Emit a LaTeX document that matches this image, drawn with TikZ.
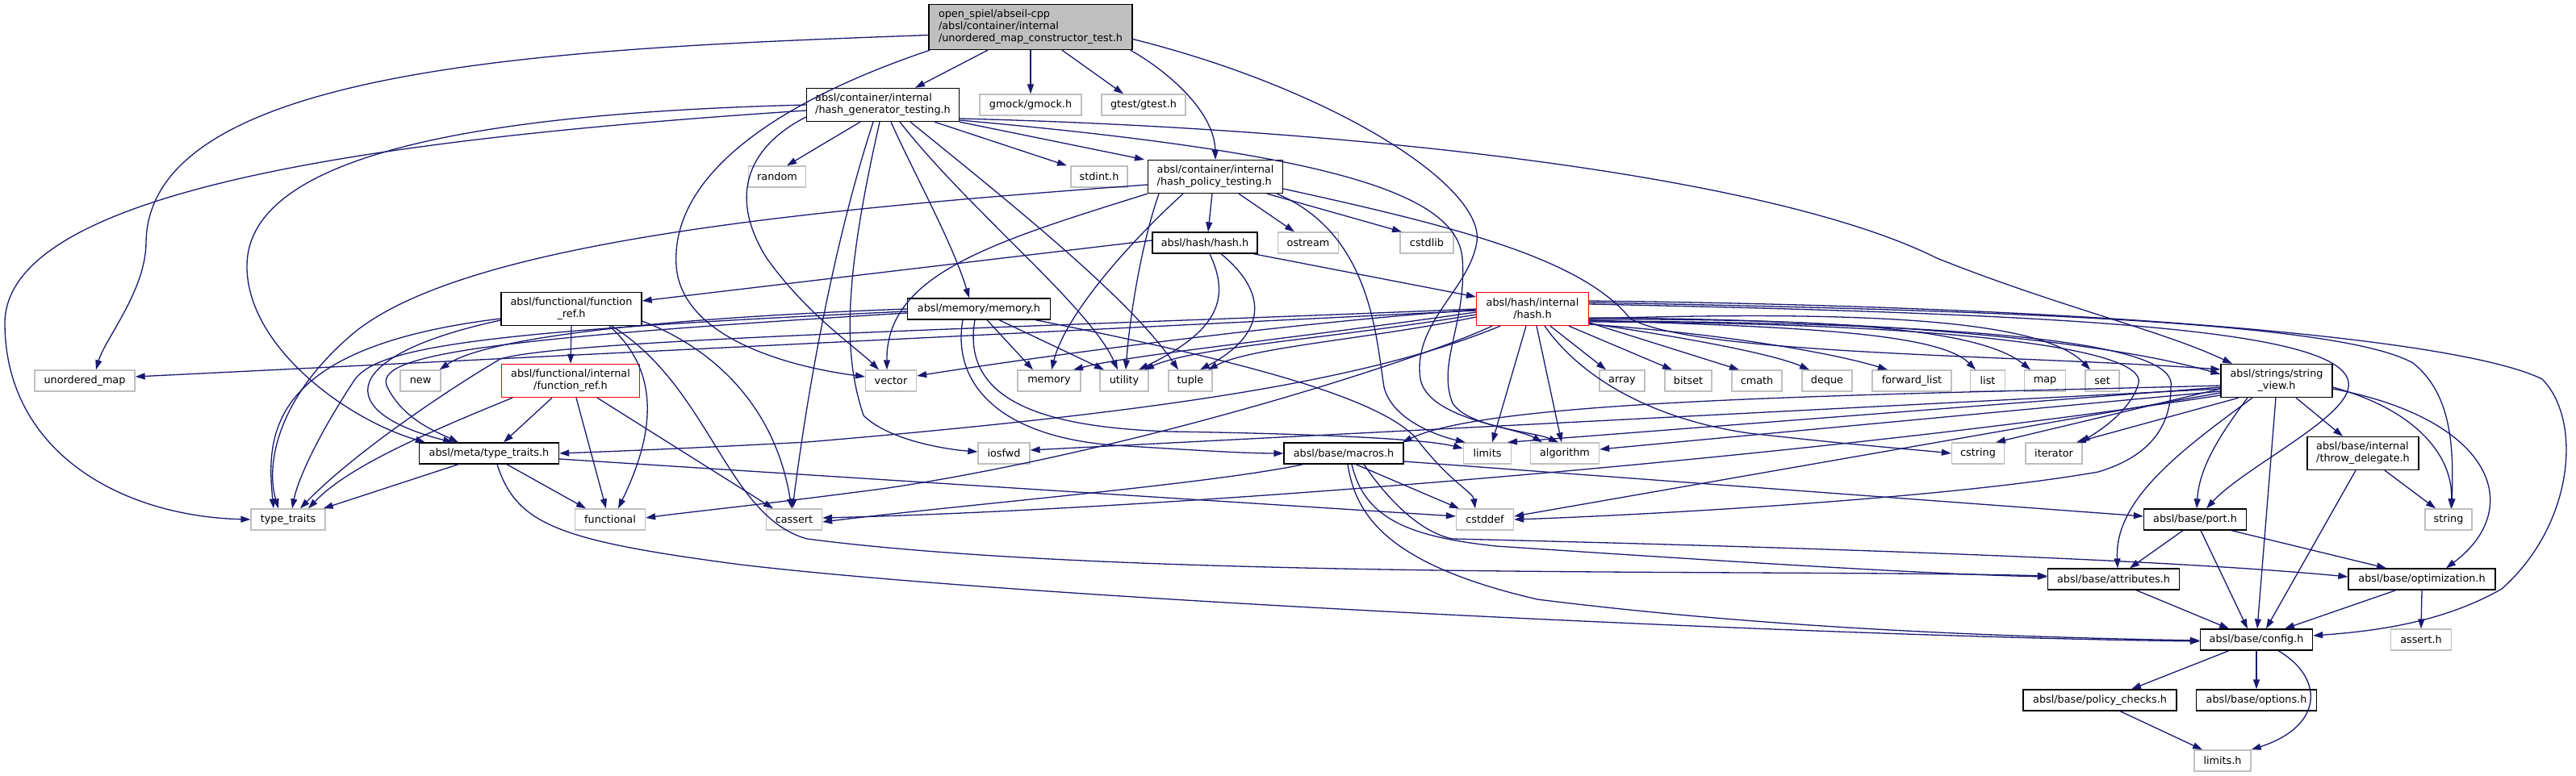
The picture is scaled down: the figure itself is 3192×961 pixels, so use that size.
\documentclass[tikz,border=0pt]{standalone}
\usepackage{fontspec}
\usetikzlibrary{arrows.meta}
\newfontfamily\dvs{DejaVu Sans}
\newcommand\nf{\dvs\fontsize{12.8pt}{15pt}\selectfont}
\definecolor{edgec}{HTML}{191970}
\definecolor{grey75}{HTML}{BFBFBF}
\tikzset{
  base/.style={rectangle, inner sep=0pt, font=\nf, text=black, fill=white, line width=1.3pt, minimum height=26},
  sys/.style={base, draw=grey75},
  fil/.style={base, draw=black},
  redbox/.style={base, draw=red},
  rootbox/.style={base, draw=black, fill=grey75},
  lnk/.style={draw=edgec, line width=1.3pt, -{Triangle[length=12pt,width=8pt]}, fill=none},
}
\begin{document}
\begin{tikzpicture}[x=1pt,y=-1pt]
\useasboundingbox (0,0) rectangle (3192,961);
% ---------- nodes ----------
\node[rootbox, minimum width=252, minimum height=56, align=left] (root) at (1277,33.5) {open\_spiel/abseil-cpp\\/absl/container/internal\\/unordered\_map\_constructor\_test.h};
\node[fil, minimum width=189, minimum height=41, align=left] (hashgen) at (1094,130) {absl/container/internal\\/hash\_generator\_testing.h};
\node[sys, minimum width=126] (gmock) at (1277,130) {gmock/gmock.h};
\node[sys, minimum width=104] (gtest) at (1417,130) {gtest/gtest.h};
\node[sys, minimum width=71] (random) at (963,219) {random};
\node[sys, minimum width=70] (stdint) at (1362,219) {stdint.h};
\node[fil, minimum width=167, minimum height=41, align=left] (hashpolicy) at (1506,219) {absl/container/internal\\/hash\_policy\_testing.h};
\node[fil, minimum width=130] (hashh) at (1493,301) {absl/hash/hash.h};
\node[sys, minimum width=75] (ostream) at (1621,301) {ostream};
\node[sys, minimum width=66] (cstdlib) at (1768,301) {cstdlib};
\node[fil, minimum width=174, minimum height=41, align=center] (functionref) at (708,383) {absl/functional/function\\\_ref.h};
\node[fil, minimum width=177] (memoryh) at (1213,383) {absl/memory/memory.h};
\node[redbox, minimum width=139, minimum height=41, align=center] (hashinternal) at (1899,383) {absl/hash/internal\\/hash.h};
\node[sys, minimum width=124] (unorderedmap) at (105,472) {unordered\_map};
\node[sys, minimum width=50] (new) at (521,472) {new};
\node[redbox, minimum width=171, minimum height=41, align=center] (functionrefint) at (707,472) {absl/functional/internal\\/function\_ref.h};
\node[sys, minimum width=63] (vector) at (1104,472) {vector};
\node[sys, minimum width=78] (memory) at (1300,472) {memory};
\node[sys, minimum width=60] (utility) at (1393,472) {utility};
\node[sys, minimum width=54] (tuple) at (1475,472) {tuple};
\node[sys, minimum width=56] (array) at (2010,472) {array};
\node[sys, minimum width=58] (bitset) at (2092,472) {bitset};
\node[sys, minimum width=62] (cmath) at (2177,472) {cmath};
\node[sys, minimum width=62] (deque) at (2264,472) {deque};
\node[sys, minimum width=98] (forwardlist) at (2369,472) {forward\_list};
\node[sys, minimum width=43] (list) at (2463,472) {list};
\node[sys, minimum width=51] (map) at (2534,472) {map};
\node[sys, minimum width=42] (set) at (2605,472) {set};
\node[fil, minimum width=138, minimum height=41, align=center] (stringview) at (2821,472) {absl/strings/string\\\_view.h};
\node[fil, minimum width=173] (typetraitsh) at (606,562) {absl/meta/type\_traits.h};
\node[sys, minimum width=64] (iosfwd) at (1244,562) {iosfwd};
\node[fil, minimum width=148] (macros) at (1665,562) {absl/base/macros.h};
\node[sys, minimum width=59] (limits) at (1843,562) {limits};
\node[sys, minimum width=85] (algorithm) at (1939,562) {algorithm};
\node[sys, minimum width=65] (cstring) at (2451,562) {cstring};
\node[sys, minimum width=70] (iterator) at (2545,562) {iterator};
\node[fil, minimum width=138, minimum height=41, align=left] (throwdelegate) at (2928,562) {absl/base/internal\\/throw\_delegate.h};
\node[sys, minimum width=92] (typetraits) at (357,644) {type\_traits};
\node[sys, minimum width=87] (functional) at (756,644) {functional};
\node[sys, minimum width=69] (cassert) at (984,644) {cassert};
\node[sys, minimum width=71] (cstddef) at (1840,644) {cstddef};
\node[fil, minimum width=127] (port) at (2720,644) {absl/base/port.h};
\node[sys, minimum width=58] (string) at (3034,644) {string};
\node[fil, minimum width=163] (attributes) at (2619,718) {absl/base/attributes.h};
\node[fil, minimum width=182] (optimization) at (3001,718) {absl/base/optimization.h};
\node[fil, minimum width=139] (config) at (2796,793) {absl/base/config.h};
\node[sys, minimum width=75] (asserth) at (3000,793) {assert.h};
\node[fil, minimum width=190] (policychecks) at (2602,868) {absl/base/policy\_checks.h};
\node[fil, minimum width=149] (options) at (2796,868) {absl/base/options.h};
\node[sys, minimum width=70] (limitsh) at (2754,943) {limits.h};
% ---------- root ----------
\draw[lnk] ([xshift=-53]root.south) -- ([xshift=40]hashgen.north);
\draw[lnk] (root.south) -- (gmock.north);
\draw[lnk] ([xshift=39]root.south) -- ([xshift=-25]gtest.north);
\draw[lnk] ([xshift=-3]root.south east) .. controls (1450,90) and (1505,140) .. (hashpolicy.north);
\draw[lnk] ([yshift=-10]root.west) .. controls (700,60) and (185,80) .. (181,300) .. controls (181,360) and (130,420) .. ([xshift=14]unorderedmap.north);
\draw[lnk] ([xshift=2]root.south west) .. controls (980,120) and (830,210) .. (838,330) .. controls (845,420) and (980,455) .. ([yshift=5]vector.west);
\draw[lnk] ([yshift=-15]root.east) .. controls (1650,110) and (1840,230) .. (1830,300) .. controls (1820,360) and (1750,400) .. (1760,470) .. controls (1770,520) and (1880,530) .. ([xshift=-28]algorithm.north);
% ---------- hash_generator_testing ----------
\draw[lnk] ([xshift=-28]hashgen.south) -- ([xshift=12]random.north);
\draw[lnk] ([xshift=64]hashgen.south) -- ([xshift=-40]stdint.north);
\draw[lnk] (hashgen.south east) -- ([xshift=-88]hashpolicy.north);
\draw[lnk] ([yshift=-15]hashgen.west) .. controls (930,180) and (900,240) .. (950,320) .. controls (1000,390) and (1060,430) .. ([xshift=-15]vector.north);
\draw[lnk] ([xshift=-12]hashgen.south) .. controls (1040,280) and (1005,450) .. ([xshift=-2]cassert.north);
\draw[lnk] ([xshift=-4]hashgen.south) .. controls (1045,350) and (1045,440) .. (1070,515) .. controls (1100,545) and (1170,557) .. ([yshift=2]iosfwd.west);
\draw[lnk] ([xshift=10]hashgen.south) .. controls (1130,210) and (1180,300) .. ([xshift=-12]memoryh.north);
\draw[lnk] ([xshift=21]hashgen.south) .. controls (1200,260) and (1350,380) .. ([xshift=-8]utility.north);
\draw[lnk] ([xshift=34]hashgen.south) .. controls (1250,250) and (1400,370) .. ([xshift=-15]tuple.north);
\draw[lnk] ([yshift=-17]hashgen.east) .. controls (1700,160) and (2200,220) .. (2400,320) .. controls (2550,380) and (2680,410) .. ([xshift=-55]stringview.north);
\draw[lnk] ([yshift=-19]hashgen.east) .. controls (1650,190) and (1805,240) .. (1812,320) .. controls (1818,400) and (1780,450) .. (1800,500) .. controls (1820,530) and (1900,535) .. ([xshift=-8]algorithm.north);
\draw[lnk] (hashgen.west) .. controls (600,140) and (306,190) .. (306,330) .. controls (306,430) and (430,520) .. ([xshift=8]typetraitsh.north west);
\draw[lnk] ([yshift=-7]hashgen.west) .. controls (500,170) and (8,230) .. (6,400) .. controls (6,560) and (150,640) .. (typetraits.west);
% ---------- hash_policy_testing ----------
\draw[lnk] ([xshift=64]hashpolicy.south) -- ([xshift=-31]cstdlib.north);
\draw[lnk] ([xshift=29]hashpolicy.south) -- ([xshift=-17]ostream.north);
\draw[lnk] ([xshift=-4]hashpolicy.south) -- ([xshift=4]hashh.north);
\draw[lnk] ([xshift=-40]hashpolicy.south) .. controls (1400,300) and (1320,390) .. ([xshift=3]memory.north);
\draw[lnk] ([xshift=-70]hashpolicy.south) .. controls (1415,300) and (1400,390) .. ([xshift=2]utility.north);
\draw[lnk] (hashpolicy.south west) .. controls (1230,300) and (1098,340) .. ([xshift=-5]vector.north);
\draw[lnk] ([xshift=-8]hashpolicy.south east) .. controls (1700,290) and (1705,420) .. (1715,480) .. controls (1725,520) and (1780,540) .. ([xshift=3]limits.north west);
\draw[lnk] ([yshift=-10]hashpolicy.west) .. controls (1000,260) and (560,300) .. (430,420) .. controls (340,500) and (330,580) .. ([xshift=-12]typetraits.north);
\draw[lnk] ([yshift=-15]hashpolicy.east) .. controls (1800,280) and (1960,320) .. (2020,395) .. controls (2100,440) and (2500,440) .. ([yshift=14]stringview.west);
% ---------- hash.h ----------
\draw[lnk] ([yshift=3]hashh.west) -- ([yshift=10]functionref.east);
\draw[lnk] ([xshift=60]hashh.south) -- ([yshift=15]hashinternal.west);
\draw[lnk] ([xshift=6]hashh.south) .. controls (1525,370) and (1510,410) .. ([xshift=18]utility.north);
\draw[lnk] ([xshift=20]hashh.south) .. controls (1580,370) and (1560,420) .. ([xshift=12]tuple.north);
% ---------- function_ref ----------
\draw[lnk] ([yshift=-12]functionref.west) .. controls (330,430) and (330,540) .. ([xshift=-18]typetraits.north);
\draw[lnk] ([yshift=-14]functionref.west) .. controls (420,440) and (410,510) .. ([xshift=-45]typetraitsh.north);
\draw[lnk] (functionref.south) -- (functionrefint.north);
\draw[lnk] ([xshift=47]functionref.south) .. controls (830,470) and (800,560) .. ([xshift=10]functional.north);
\draw[lnk] ([yshift=-15]functionref.east) .. controls (880,430) and (960,500) .. ([xshift=-3]cassert.north);
\draw[lnk] ([xshift=50]functionref.south) .. controls (880,480) and (900,640) .. (1000,668) .. controls (1400,720) and (2200,705) .. ([yshift=4]attributes.west);
% ---------- internal function_ref ----------
\draw[lnk] ([xshift=-72]functionrefint.south) .. controls (520,540) and (430,580) .. ([xshift=25]typetraits.north);
\draw[lnk] ([xshift=-23]functionrefint.south) -- ([xshift=18]typetraitsh.north);
\draw[lnk] ([xshift=7]functionrefint.south) -- ([xshift=-5]functional.north);
\draw[lnk] ([xshift=33]functionrefint.south) -- ([xshift=-26]cassert.north);
% ---------- memory.h ----------
\draw[lnk] (memoryh.west) .. controls (800,395) and (600,420) .. ([xshift=-2]new.north east);
\draw[lnk] ([yshift=-3]memoryh.west) .. controls (600,410) and (470,430) .. (440,470) .. controls (400,530) and (370,590) .. ([xshift=5]typetraits.north);
\draw[lnk] ([yshift=-5]memoryh.west) .. controls (600,420) and (460,440) .. (480,480) .. controls (500,520) and (540,535) .. ([xshift=-38]typetraitsh.north);
\draw[lnk] ([xshift=10]memoryh.south) -- ([xshift=-20]memory.north);
\draw[lnk] ([xshift=25]memoryh.south) -- ([xshift=-25]utility.north);
\draw[lnk] ([xshift=-5]memoryh.south) .. controls (1190,500) and (1300,530) .. (1450,535) .. controls (1650,538) and (1770,545) .. ([yshift=6]limits.west);
\draw[lnk] ([xshift=-20]memoryh.south) .. controls (1180,470) and (1230,540) .. (1380,552) .. controls (1480,558) and (1540,562) .. (macros.west);
\draw[lnk] ([xshift=70]memoryh.south) .. controls (1500,440) and (1720,490) .. (1760,550) .. controls (1800,600) and (1825,610) .. ([xshift=-12]cstddef.north);
% ---------- meta/type_traits.h ----------
\draw[lnk] ([xshift=-38]typetraitsh.south) -- ([xshift=-3]typetraits.north east);
\draw[lnk] ([xshift=22]typetraitsh.south) -- ([xshift=-30]functional.north);
\draw[lnk] ([yshift=-7]typetraitsh.east) -- ([yshift=4]cstddef.west);
\draw[lnk] ([xshift=10]typetraitsh.south) .. controls (640,650) and (690,670) .. (918,700) .. controls (1300,745) and (2300,790) .. ([yshift=-2]config.west);
% ---------- hash/internal/hash.h ----------
\draw[lnk] ([xshift=22]hashinternal.south) -- ([xshift=-20]array.north);
\draw[lnk] ([xshift=45]hashinternal.south) -- ([xshift=-20]bitset.north);
\draw[lnk] ([yshift=-17]hashinternal.east) -- ([xshift=-22]cmath.north);
\draw[lnk] ([yshift=-18]hashinternal.east) .. controls (2100,420) and (2200,440) .. ([xshift=-22]deque.north);
\draw[lnk] ([yshift=-19]hashinternal.east) .. controls (2150,415) and (2280,440) .. ([xshift=-30]forwardlist.north);
\draw[lnk] ([yshift=-14]hashinternal.east) .. controls (2200,405) and (2400,410) .. ([xshift=-15]list.north);
\draw[lnk] ([yshift=-13]hashinternal.east) .. controls (2250,395) and (2450,405) .. ([xshift=-18]map.north);
\draw[lnk] ([yshift=-12]hashinternal.east) .. controls (2300,385) and (2530,395) .. ([xshift=-15]set.north);
\draw[lnk] ([yshift=-11]hashinternal.east) .. controls (2300,395) and (2600,420) .. ([yshift=8]stringview.west);
\draw[lnk] ([yshift=-16]hashinternal.east) .. controls (2400,400) and (2660,430) .. (2650,475) .. controls (2640,510) and (2600,535) .. ([xshift=-3]iterator.north east);
\draw[lnk] ([yshift=-15]hashinternal.east) .. controls (2500,400) and (2700,430) .. (2690,480) .. controls (2690,540) and (2650,570) .. (2600,585) .. controls (2400,620) and (2000,640) .. (cstddef.east);
\draw[lnk] ([xshift=15]hashinternal.south) .. controls (1960,470) and (2050,520) .. (2167,537) .. controls (2300,552) and (2380,558) .. (cstring.west);
\draw[lnk] ([xshift=5]hashinternal.south) -- ([xshift=-4]algorithm.north);
\draw[lnk] ([xshift=-8]hashinternal.south) -- ([xshift=6]limits.north);
\draw[lnk] ([yshift=-4]hashinternal.west) .. controls (1600,420) and (1400,440) .. ([xshift=30]memory.north);
\draw[lnk] ([yshift=-7]hashinternal.west) .. controls (1650,420) and (1480,430) .. ([xshift=25]utility.north);
\draw[lnk] ([yshift=-10]hashinternal.west) .. controls (1700,420) and (1550,430) .. ([xshift=22]tuple.north);
\draw[lnk] ([yshift=-1]hashinternal.west) .. controls (1600,400) and (1300,440) .. ([yshift=6]vector.east);
\draw[lnk] ([yshift=-2]hashinternal.west) -- ([yshift=5]unorderedmap.east);
\draw[lnk] (hashinternal.west) .. controls (1300,405) and (700,420) .. (620,445) .. controls (560,480) and (440,560) .. ([xshift=15]typetraits.north);
\draw[lnk] ([xshift=-50]hashinternal.south) .. controls (1750,450) and (1400,560) .. (1100,605) .. controls (950,625) and (850,635) .. ([yshift=2]functional.east);
\draw[lnk] ([xshift=-40]hashinternal.south) .. controls (1700,470) and (1450,510) .. (1000,548) .. controls (850,556) and (750,560) .. (typetraitsh.east);
\draw[lnk] ([yshift=8]hashinternal.east) .. controls (2500,385) and (2900,400) .. (2990,450) .. controls (3040,490) and (3040,560) .. ([xshift=4]string.north);
\draw[lnk] ([yshift=6]hashinternal.east) .. controls (2600,390) and (2920,410) .. (2910,480) .. controls (2905,520) and (2780,580) .. ([xshift=14]port.north);
\draw[lnk] ([yshift=10]hashinternal.east) .. controls (2600,380) and (3050,420) .. (3150,470) .. controls (3200,520) and (3190,650) .. (3100,730) .. controls (3030,770) and (2950,782) .. ([yshift=5]config.east);
% ---------- strings/string_view.h ----------
\draw[lnk] ([xshift=24]stringview.south) -- ([xshift=-25]throwdelegate.north);
\draw[lnk] ([xshift=-36]stringview.south) .. controls (2750,540) and (2725,580) .. ([xshift=2]port.north);
\draw[lnk] ([xshift=-1]stringview.south) -- ([xshift=1]config.north);
\draw[lnk] ([xshift=-30]stringview.south) .. controls (2700,560) and (2620,620) .. ([xshift=5]attributes.north);
\draw[lnk] ([yshift=-10]stringview.east) .. controls (3090,520) and (3130,630) .. ([xshift=30]optimization.north);
\draw[lnk] ([yshift=-8]stringview.east) .. controls (3000,510) and (3040,570) .. ([xshift=3]string.north);
\draw[lnk] ([yshift=-13]stringview.west) -- ([yshift=5]algorithm.east);
\draw[lnk] ([yshift=-15]stringview.west) -- ([yshift=4]cstddef.east);
\draw[lnk] ([yshift=-10]stringview.west) -- ([xshift=22]cstring.north);
\draw[lnk] ([xshift=-47]stringview.south) -- ([xshift=-8]iterator.north east);
\draw[lnk] ([yshift=-10]stringview.west) -- ([yshift=4]iosfwd.east);
\draw[lnk] ([yshift=-8]stringview.west) -- ([xshift=25]limits.north);
\draw[lnk] ([yshift=-6]stringview.west) .. controls (2300,490) and (1850,495) .. ([xshift=-2]macros.north east);
\draw[lnk] ([yshift=-18]stringview.west) .. controls (2300,560) and (1500,630) .. ([yshift=2]cassert.east);
% ---------- throw_delegate ----------
\draw[lnk] ([xshift=27]throwdelegate.south) -- ([xshift=-16]string.north);
\draw[lnk] ([xshift=-9]throwdelegate.south) -- ([xshift=12]config.north);
% ---------- macros ----------
\draw[lnk] ([xshift=-50]macros.south) .. controls (1500,600) and (1200,625) .. ([yshift=-3]cassert.east);
\draw[lnk] ([xshift=15]macros.south) -- ([xshift=-32]cstddef.north);
\draw[lnk] ([yshift=-10]macros.east) -- ([yshift=4]port.west);
\draw[lnk] ([xshift=10]macros.south) .. controls (1690,640) and (1740,665) .. (1854,677) .. controls (2200,700) and (2400,712) .. ([yshift=3]attributes.west);
\draw[lnk] ([xshift=5]macros.south) .. controls (1680,640) and (1720,700) .. (1905,743) .. controls (2200,780) and (2500,790) .. ([yshift=-1]config.west);
\draw[lnk] ([xshift=25]macros.south) .. controls (1720,620) and (1760,660) .. (1800,668) .. controls (2300,680) and (2700,695) .. ([yshift=3]optimization.west);
% ---------- base ----------
\draw[lnk] ([xshift=-15]port.south) -- ([xshift=20]attributes.north);
\draw[lnk] ([xshift=7]port.south) -- ([xshift=-11]config.north);
\draw[lnk] ([xshift=45]port.south) -- ([xshift=-44]optimization.north);
\draw[lnk] ([xshift=28]attributes.south) -- ([xshift=-34]config.north);
\draw[lnk] ([xshift=-32]optimization.south) -- ([xshift=35]config.north);
\draw[lnk] (optimization.south) -- (asserth.north);
\draw[lnk] ([xshift=-34]config.south) -- ([xshift=39]policychecks.north);
\draw[lnk] (config.south) -- (options.north);
\draw[lnk] ([xshift=27]config.south) .. controls (2880,840) and (2880,900) .. (limitsh.north east);
\draw[lnk] ([xshift=25]policychecks.south) -- ([xshift=-25]limitsh.north);
\end{tikzpicture}
\end{document}
